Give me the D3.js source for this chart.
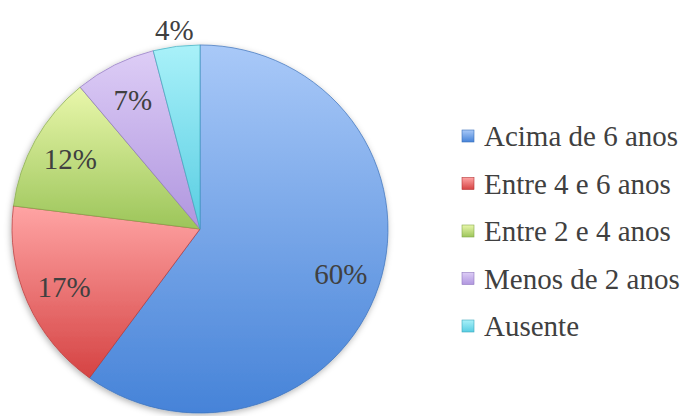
<!DOCTYPE html>
<html>
<head>
<meta charset="utf-8">
<script src="https://cdn.jsdelivr.net/npm/d3@7/dist/d3.min.js"></script>
<style>
  html, body { margin: 0; padding: 0; background: #fff; }
  svg { display: block; }
</style>
</head>
<body>
<svg id="chart" width="683" height="416"></svg>
<script>
// Data.
const categories = ['Acima de 6 anos', 'Entre 4 e 6 anos', 'Entre 2 e 4 anos', 'Menos de 2 anos', 'Ausente'];
const values = [60, 17, 12, 7, 4];
const labels = ['60%', '17%', '12%', '7%', '4%'];

// Light (top) / dark (bottom) gradient stops per slice.
const lightColors = ['#a9c9f8', '#ffa4a4', '#e9f7ab', '#ddcdf6', '#a9f1f9'];
const darkColors = ['#4683d8', '#d54343', '#9cc55a', '#b096df', '#58cde2'];
const edgeColors = ['#3a6fb8', '#b53535', '#84a84a', '#8f77bf', '#3fa9bd'];

const FONT = 'Liberation Serif';

const svg = d3.select('#chart');

const cx = 200, cy = 229, radius = 188, yScale = 0.979;

const defs = svg.append('defs');

// gradients for each slice
categories.forEach((c, i) => {
  const g = defs.append('linearGradient')
    .attr('id', 'grad' + i)
    .attr('x1', 0).attr('y1', 0).attr('x2', 0).attr('y2', 1);
  g.append('stop').attr('offset', '0%').attr('stop-color', lightColors[i]);
  g.append('stop').attr('offset', '100%').attr('stop-color', darkColors[i]);
});

const shadow = defs.append('filter').attr('id', 'shadow')
  .attr('x', '-10%').attr('y', '-10%').attr('width', '120%').attr('height', '120%');
shadow.append('feDropShadow')
  .attr('dx', -1).attr('dy', 2).attr('stdDeviation', 3)
  .attr('flood-color', '#000').attr('flood-opacity', 0.3);

const pie = d3.pie().sort(null).value(d => d)(values);
const arc = d3.arc().innerRadius(0).outerRadius(radius);

const pieG = svg.append('g')
  .attr('transform', `translate(${cx},${cy}) scale(1,${yScale})`);

pieG.append('g').attr('filter', 'url(#shadow)')
  .selectAll('path')
  .data(pie)
  .join('path')
  .attr('d', arc)
  .attr('fill', (d, i) => `url(#grad${i})`)
  .attr('stroke', (d, i) => edgeColors[i])
  .attr('stroke-opacity', 0.7)
  .attr('stroke-width', 1);

// labels: inside for big slices, outside for the small one
const inLabel = d3.arc().innerRadius(148).outerRadius(148);
const outLabel = d3.arc().innerRadius(205).outerRadius(205);

svg.append('g')
  .selectAll('text')
  .data(pie)
  .join('text')
  .attr('x', d => cx + (d.data < 5 ? outLabel : inLabel).centroid(d)[0])
  .attr('y', d => cy + (d.data < 5 ? outLabel : inLabel).centroid(d)[1] * yScale)
  .attr('dy', '0.35em')
  .attr('text-anchor', 'middle')
  .attr('font-family', FONT)
  .attr('font-size', 29)
  .attr('fill', '#404040')
  .text((d, i) => labels[i]);

// legend
const legendY = d3.scalePoint().domain(categories).range([146, 336]);

const legend = svg.append('g')
  .selectAll('g')
  .data(categories)
  .join('g')
  .attr('transform', d => `translate(462,${legendY(d)})`);

legend.append('rect')
  .attr('x', 0).attr('y', -16)
  .attr('width', 12).attr('height', 12)
  .attr('fill', (d, i) => `url(#grad${i})`)
  .attr('stroke', (d, i) => edgeColors[i])
  .attr('stroke-width', 0.6);

legend.append('text')
  .attr('x', 22).attr('y', 0)
  .attr('font-family', FONT)
  .attr('font-size', 29)
  .attr('fill', '#404040')
  .text(d => d);
</script>
</body>
</html>
